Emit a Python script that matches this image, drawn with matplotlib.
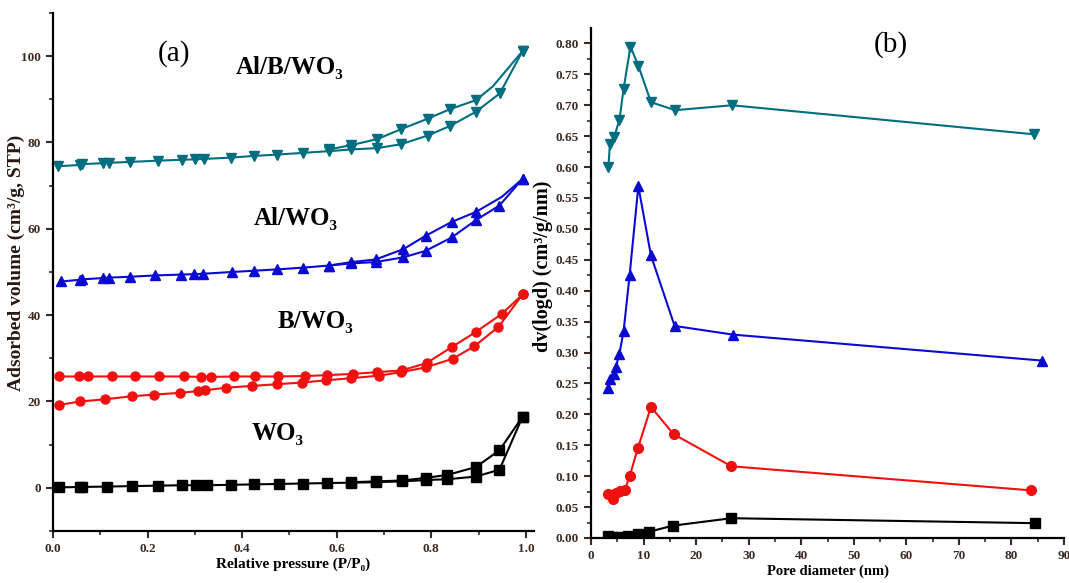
import numpy as np
import matplotlib
matplotlib.use("Agg")
import matplotlib.pyplot as plt

# ==========================================
# DATA : (a) N2 isotherms
# ==========================================

# WO3 (black squares)
wo3_ads_p = [0.013, 0.056, 0.062, 0.115, 0.168, 0.221, 0.272, 0.302, 0.325, 0.376, 0.426,
             0.478, 0.528, 0.580, 0.631, 0.684, 0.739, 0.788, 0.834, 0.894, 0.944, 0.993]
wo3_ads_v = [0.1, 0.2, 0.2, 0.3, 0.4, 0.5, 0.6, 0.6, 0.6, 0.7, 0.8,
             0.9, 1.0, 1.1, 1.2, 1.3, 1.5, 1.8, 2.0, 2.6, 4.2, 16.5]
wo3_des_p = [0.993, 0.944, 0.894, 0.834, 0.788, 0.739, 0.684, 0.631]
wo3_des_v = [16.5, 8.7, 4.8, 3.0, 2.3, 1.7, 1.5, 1.3]

# B/WO3 (red circles)
bwo3_ads_p = [0.013, 0.057, 0.109, 0.166, 0.213, 0.268, 0.306, 0.322, 0.366, 0.420, 0.473,
              0.527, 0.577, 0.631, 0.690, 0.736, 0.788, 0.845, 0.891, 0.942, 0.993]
bwo3_ads_v = [19.2, 20.0, 20.5, 21.2, 21.6, 22.0, 22.4, 22.6, 23.2, 23.6, 24.0,
              24.4, 24.9, 25.4, 26.0, 26.8, 27.9, 29.9, 32.8, 37.3, 44.8]
bwo3_des_p = [0.993, 0.949, 0.894, 0.843, 0.790, 0.737, 0.686, 0.635, 0.580, 0.532, 0.475,
              0.428, 0.383, 0.334, 0.312, 0.276, 0.224, 0.174, 0.124, 0.074, 0.055, 0.013]
bwo3_des_v = [44.8, 40.3, 36.1, 32.6, 28.9, 27.2, 26.8, 26.4, 26.1, 25.9, 25.8,
              25.8, 25.8, 25.7, 25.7, 25.8, 25.8, 25.8, 25.8, 25.8, 25.8, 25.8]

# Al/WO3 (blue triangles)
alwo3_ads_p = [0.017, 0.057, 0.062, 0.106, 0.119, 0.163, 0.215, 0.270, 0.299, 0.318, 0.378,
               0.426, 0.473, 0.528, 0.584, 0.631, 0.682, 0.741, 0.788, 0.843, 0.894, 0.944, 0.993]
alwo3_ads_v = [47.8, 48.2, 48.3, 48.6, 48.7, 48.9, 49.2, 49.4, 49.5, 49.6, 50.0,
               50.3, 50.6, 51.0, 51.5, 52.0, 52.3, 53.4, 54.9, 58.0, 62.0, 65.4, 71.6]
alwo3_des_p = [0.993, 0.949, 0.894, 0.843, 0.788, 0.741, 0.682, 0.631, 0.584]
alwo3_des_v = [71.6, 67.4, 63.9, 61.6, 58.4, 55.3, 52.9, 52.3, 51.5]

# Al/B/WO3 (teal inverted triangles)
albwo3_ads_p = [0.011, 0.058, 0.062, 0.106, 0.119, 0.163, 0.223, 0.272, 0.301, 0.320, 0.377,
                0.426, 0.474, 0.529, 0.584, 0.631, 0.686, 0.736, 0.792, 0.839, 0.894, 0.945, 0.993]
albwo3_ads_v = [74.5, 74.8, 75.0, 75.2, 75.3, 75.5, 75.8, 76.0, 76.1, 76.2, 76.5,
                76.9, 77.2, 77.6, 78.0, 78.4, 78.7, 79.6, 81.6, 83.8, 87.1, 91.4, 101.2]
albwo3_des_p = [0.993, 0.930, 0.894, 0.839, 0.792, 0.736, 0.686, 0.631, 0.584]
albwo3_des_v = [101.2, 93.0, 89.8, 87.7, 85.5, 83.1, 80.8, 79.4, 78.4]

# ==========================================
# DATA : (b) pore size distribution
# ==========================================

wo3_d = [3.3, 3.9, 5.5, 7.0, 8.9, 11.0, 15.6, 26.7, 84.5]
wo3_dv = [0.003, 0.002, 0.002, 0.003, 0.007, 0.010, 0.020, 0.032, 0.024]

bwo3_d = [3.3, 4.1, 4.7, 5.5, 6.4, 7.35, 8.9, 11.4, 15.7, 26.7, 83.8]
bwo3_dv = [0.071, 0.063, 0.073, 0.076, 0.077, 0.100, 0.145, 0.212, 0.168, 0.116, 0.077]

alwo3_d = [3.3, 3.7, 4.3, 4.7, 5.4, 6.2, 7.35, 9.0, 11.4, 15.9, 27.0, 85.8]
alwo3_dv = [0.243, 0.257, 0.265, 0.276, 0.298, 0.335, 0.426, 0.569, 0.457, 0.343, 0.329, 0.287]

albwo3_d = [3.3, 3.6, 4.4, 5.4, 6.2, 7.5, 9.0, 11.4, 16.0, 26.8, 84.3]
albwo3_dv = [0.600, 0.638, 0.649, 0.676, 0.727, 0.795, 0.764, 0.705, 0.692, 0.700, 0.653]

# ==========================================
# STYLE
# ==========================================

black = "#000000"
red = "#f01010"
blue = "#0a0ad2"
teal = "#006e7e"
tick_col = "#3c2a22"

serif = ["Liberation Serif", "DejaVu Serif"]
plt.rcParams["font.family"] = serif
plt.rcParams["font.weight"] = "bold"

fig = plt.figure(figsize=(10.69, 5.83), dpi=100)

ax1 = fig.add_axes([0.0496, 0.0892, 0.4499, 0.8885])
ax2 = fig.add_axes([0.5529, 0.0772, 0.4424, 0.8748])


def style_axes(ax):
    for side in ["top", "right"]:
        ax.spines[side].set_visible(False)
    for side in ["left", "bottom"]:
        ax.spines[side].set_linewidth(1.6)
    ax.tick_params(which="major", direction="out", length=5, width=1.5,
                   labelsize=9.5, colors=tick_col)
    ax.tick_params(which="minor", direction="out", length=3, width=1.2, colors=tick_col)
    for lab in ax.get_xticklabels() + ax.get_yticklabels():
        lab.set_fontweight("bold")


# ---------- (a) ----------
lw = 1.5
ax1.plot(wo3_ads_p, wo3_ads_v, "-s", color=black, ms=6.5, lw=lw)
ax1.plot(wo3_des_p, wo3_des_v, "-s", color=black, ms=6.5, lw=lw)
ax1.plot(bwo3_ads_p, bwo3_ads_v, "-o", color=red, ms=6.5, lw=lw)
ax1.plot(bwo3_des_p, bwo3_des_v, "-o", color=red, ms=6.5, lw=lw)
ax1.plot(alwo3_ads_p, alwo3_ads_v, "-^", color=blue, ms=7, lw=lw)
ax1.plot(alwo3_des_p, alwo3_des_v, "-^", color=blue, ms=7, lw=lw, markevery=[0, 2, 3, 4, 5, 6, 7, 8])
ax1.plot(albwo3_ads_p, albwo3_ads_v, "-v", color=teal, ms=7, lw=lw)
ax1.plot(albwo3_des_p, albwo3_des_v, "-v", color=teal, ms=7, lw=lw, markevery=[0, 2, 3, 4, 5, 6, 7, 8])

ax1.set_xlim(0, 1.017)
ax1.set_ylim(-10, 110)
ax1.set_xticks(np.arange(0, 1.01, 0.2))
ax1.set_xticks(np.arange(0.1, 1.01, 0.2), minor=True)
ax1.set_yticks(np.arange(0, 101, 20))
ax1.set_yticks(np.arange(-10, 111, 20), minor=True)
style_axes(ax1)

ax1.set_xlabel("Relative pressure (P/P\u2080)", fontsize=11, fontweight="bold", labelpad=2)
ax1.set_ylabel("Adsorbed volume (cm\u00b3/g, STP)", fontsize=14, fontweight="bold",
               color="#2a1812")
ax1.yaxis.set_label_coords(-0.058, 0.517)

ax1.text(0.256, 100.7, "(a)", fontsize=21, fontweight="normal", ha="center", va="center")
ax1.text(0.50, 97.3, "Al/B/WO\u2083", fontsize=18, fontweight="bold", ha="center", va="center")
ax1.text(0.514, 62.5, "Al/WO\u2083", fontsize=18, fontweight="bold", ha="center", va="center")
ax1.text(0.554, 38.6, "B/WO\u2083", fontsize=18, fontweight="bold", ha="center", va="center")
ax1.text(0.474, 12.7, "WO\u2083", fontsize=18, fontweight="bold", ha="center", va="center")

# ---------- (b) ----------
ax2.plot(wo3_d, wo3_dv, "-s", color=black, ms=6.5, lw=lw)
ax2.plot(bwo3_d, bwo3_dv, "-o", color=red, ms=7, lw=lw)
ax2.plot(alwo3_d, alwo3_dv, "-^", color=blue, ms=7.5, lw=lw)
ax2.plot(albwo3_d, albwo3_dv, "-v", color=teal, ms=7.5, lw=lw)

ax2.set_xlim(0, 90)
ax2.set_ylim(0, 0.825)
ax2.set_xticks(np.arange(0, 91, 10))
ax2.set_xticks(np.arange(5, 90, 10), minor=True)
ax2.set_yticks(np.arange(0, 0.81, 0.05))
ax2.set_yticks(np.arange(0.025, 0.81, 0.05), minor=True)
ax2.yaxis.set_major_formatter(matplotlib.ticker.FormatStrFormatter("%.2f"))
style_axes(ax2)

ax2.set_xlabel("Pore diameter (nm)", fontsize=10.5, fontweight="bold", labelpad=2)
ax2.set_ylabel("dv(logd) (cm\u00b3/g/nm)", fontsize=14.5, fontweight="bold")
ax2.yaxis.set_label_coords(-0.080, 0.533)

ax2.text(57.1, 0.798, "(b)", fontsize=21, fontweight="normal", ha="center", va="center")

fig.savefig("out.png", dpi=100)
